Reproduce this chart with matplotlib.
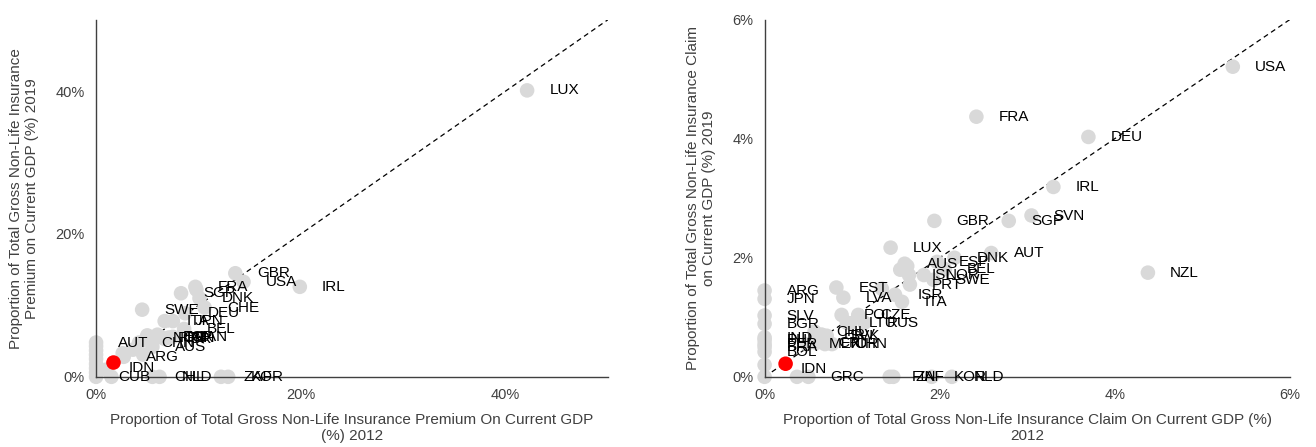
import matplotlib.pyplot as plt
from matplotlib.ticker import FuncFormatter

plt.rcParams['font.family'] = ['Liberation Sans', 'DejaVu Sans']

# premium as % of GDP, 2012 vs 2019
prem_codes = ['LUX', 'IRL', 'GBR', 'USA', 'FRA', 'SGP', 'DNK', 'CHE', 'SWE', 'DEU',
              'ITA', 'JPN', 'BEL', 'NOR', 'PRT', 'ESP', 'ISR', 'FIN', 'CAN',
              'CHN', 'AUS', 'AUT', 'ARG', 'CUB', 'CHL', 'NLD', 'ZAF', 'KOR',
              '', '', '', '', '', '', '', '', '', '', '', '', '', '', '']
prem_2012 = [42.1, 19.9, 13.6, 14.4, 9.7, 8.3, 10.1, 10.6, 4.5, 8.7,
             6.7, 7.5, 8.6, 5.3, 5.8, 6.3, 6.7, 7.1, 7.5,
             4.2, 5.5, 0.0, 2.7, 0.0, 5.5, 6.2, 12.2, 12.9,
             0.0, 0.0, 0.0, 0.0, 0.0, 0.0, 0.0, 1.0, 1.5, 2.6, 3.6, 4.6, 5.0, 6.0, 9.8]
prem_2019 = [40.1, 12.6, 14.5, 13.3, 12.6, 11.7, 11.0, 9.7, 9.4, 8.9,
             7.8, 7.8, 6.7, 5.5, 5.4, 5.6, 5.3, 5.5, 5.6,
             4.8, 4.2, 4.8, 2.8, 0.0, 0.0, 0.0, 0.0, 0.0,
             0.6, 1.2, 1.8, 2.5, 3.1, 3.7, 4.3, 1.0, 0.0, 3.3, 3.8, 3.1, 5.8, 5.9, 12.2]
prem_idn = (1.7, 2.0)

# claims as % of GDP, 2012 vs 2019
claim_codes = ['USA', 'FRA', 'DEU', 'IRL', 'GBR', 'SGP', 'SVN', 'LUX', 'AUT', 'DNK',
               'ESP', 'AUS', 'BEL', 'ISL', 'NOR', 'SWE', 'PRT', 'NZL', 'EST', 'ISR',
               'ITA', 'LVA', 'ARG', 'JPN', 'SLV', 'BGR', 'POL', 'CZE', 'LTU', 'RUS',
               'CHL', 'HRV', 'SVK', 'CRI', 'TUR', 'CHN', 'MEX', 'IND', 'PHL', 'PER',
               'BRA', 'BOL', 'GRC', 'FIN', 'ZAF', 'KOR', 'NLD',
               '', '', '', '', '', '', '']
claim_2012 = [5.35, 2.42, 3.70, 3.30, 1.94, 2.79, 3.05, 1.44, 2.59, 2.17,
              1.97, 1.60, 2.06, 1.65, 1.82, 1.93, 1.66, 4.38, 0.82, 1.49,
              1.57, 0.90, 0.00, 0.00, 0.00, 0.00, 0.88, 1.07, 0.94, 1.14,
              0.57, 0.65, 0.71, 0.59, 0.69, 0.77, 0.48, 0.00, 0.00, 0.00,
              0.00, 0.00, 0.50, 1.43, 1.47, 1.91, 2.14,
              0.00, 0.00, 0.37, 1.34, 1.55, 1.63, 0.98]
claim_2019 = [5.21, 4.37, 4.03, 3.19, 2.62, 2.62, 2.71, 2.17, 2.08, 2.00,
              1.93, 1.90, 1.81, 1.71, 1.71, 1.63, 1.55, 1.75, 1.50, 1.38,
              1.26, 1.33, 1.45, 1.31, 1.03, 0.89, 1.04, 1.04, 0.91, 0.91,
              0.76, 0.71, 0.69, 0.57, 0.55, 0.55, 0.55, 0.66, 0.62, 0.55,
              0.50, 0.42, 0.00, 0.00, 0.00, 0.00, 0.00,
              0.00, 0.20, 0.00, 1.48, 1.80, 1.86, 0.90]
claim_idn = (0.24, 0.22)

panels = [
    dict(codes=prem_codes, x=prem_2012, y=prem_2019, idn=prem_idn, lim=50, ticks=[0, 20, 40],
         xlabel='Proportion of Total Gross Non-Life Insurance Premium On Current GDP\n(%) 2012',
         ylabel='Proportion of Total Gross Non-Life Insurance\nPremium on Current GDP (%) 2019',
         rect=[0.073, 0.157, 0.389, 0.799]),
    dict(codes=claim_codes, x=claim_2012, y=claim_2019, idn=claim_idn, lim=6, ticks=[0, 2, 4, 6],
         xlabel='Proportion of Total Gross Non-Life Insurance Claim On Current GDP (%)\n2012',
         ylabel='Proportion of Total Gross Non-Life Insurance Claim\non Current GDP (%) 2019',
         rect=[0.581, 0.157, 0.399, 0.799]),
]

fig = plt.figure(figsize=(13.16, 4.47), dpi=100)
axis_col = '#404040'

for p in panels:
    ax = fig.add_axes(p['rect'])
    ax.plot([0, p['lim']], [0, p['lim']], color='black', lw=0.9, ls=(0, (4, 3)), zorder=1)
    ax.scatter(p['x'], p['y'], s=110, color='#d9d9d9', edgecolor='none', zorder=2, clip_on=False)
    ax.scatter([p['idn'][0]], [p['idn'][1]], s=110, color='#ff0000', edgecolor='none', zorder=3, clip_on=False)
    for code, xv, yv in zip(p['codes'], p['x'], p['y']):
        if code:
            ax.annotate(code, (xv, yv), xytext=(16, 0), textcoords='offset points',
                        ha='left', va='center', fontsize=11, color='black', zorder=4,
                        annotation_clip=False)
    ax.annotate('IDN', p['idn'], xytext=(11, -4), textcoords='offset points',
                ha='left', va='center', fontsize=11, color='black', zorder=4)

    ax.set_xlim(0, p['lim'])
    ax.set_ylim(0, p['lim'])
    ax.set_xticks(p['ticks'])
    ax.set_yticks(p['ticks'])
    pct = FuncFormatter(lambda v, _: f'{v:.0f}%')
    ax.xaxis.set_major_formatter(pct)
    ax.yaxis.set_major_formatter(pct)
    ax.tick_params(length=0, labelsize=10.5, colors=axis_col, pad=8)
    for side in ['top', 'right']:
        ax.spines[side].set_visible(False)
    for side in ['left', 'bottom']:
        ax.spines[side].set_color(axis_col)
        ax.spines[side].set_linewidth(1.0)
    ax.set_xlabel(p['xlabel'], fontsize=11, color=axis_col, labelpad=8, linespacing=1.15)
    ax.set_ylabel(p['ylabel'], fontsize=11, color=axis_col, labelpad=12, linespacing=1.15)

fig.savefig('out.png', dpi=100, facecolor='white')
